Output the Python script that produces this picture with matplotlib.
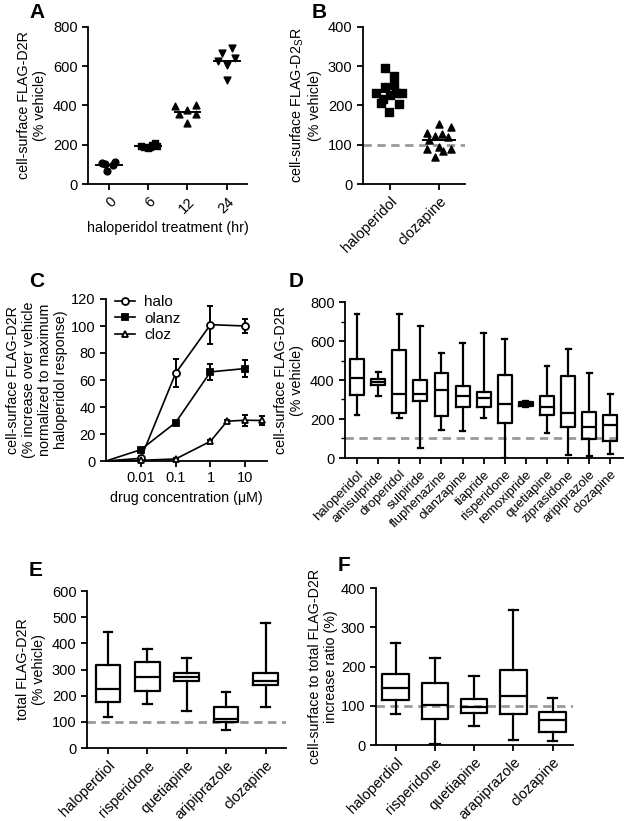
import numpy as np
import matplotlib
matplotlib.use('Agg')
import matplotlib.pyplot as plt
from matplotlib.ticker import LogLocator, NullFormatter, MultipleLocator

plt.rcParams['font.family'] = ['Liberation Sans', 'DejaVu Sans']
plt.rcParams['font.size'] = 10.5
plt.rcParams['axes.linewidth'] = 1.3
plt.rcParams['xtick.major.width'] = 1.3
plt.rcParams['ytick.major.width'] = 1.3
plt.rcParams['xtick.minor.width'] = 1.0
plt.rcParams['ytick.minor.width'] = 1.0
plt.rcParams['xtick.major.size'] = 4
plt.rcParams['ytick.major.size'] = 4

# ---- A: haloperidol time course
a_labels = ['0', '6', '12', '24']
a_vals = [
    [108, 104, 65, 97, 113],
    [193, 188, 185, 190, 197, 207, 195],
    [397, 357, 377, 312, 357, 402],
    [628, 669, 691, 644, 606, 530],
]
a_markers = ['o', 's', '^', 'v']
a_jitter = [
    [-0.17, -0.1, -0.06, 0.09, 0.15],
    [-0.18, -0.1, -0.02, 0.05, 0.1, 0.16, 0.21],
    [-0.31, -0.21, 0, 0, 0.21, 0.22],
    [-0.21, -0.13, 0.13, 0.21, 0, 0],
]

# ---- B: haloperidol vs clozapine
b_labels = ['haloperidol', 'clozapine']
b_vals = [
    [295, 276, 246, 252, 231, 233, 216, 227, 206, 204, 183, 231],
    [153, 131, 144, 122, 127, 112, 119, 88, 93, 85, 88, 68],
]
b_markers = ['s', '^']
b_jitter = [
    [-0.10, 0.09, -0.10, 0.09, -0.29, 0.24, -0.14, 0, -0.19, 0.19, -0.01, 0.12],
    [0, -0.25, 0.24, -0.08, 0.07, -0.20, 0.19, -0.25, 0, 0.09, 0.24, -0.08],
]

# ---- C: concentration response (uM)
c_halo_x = [0.001, 0.01, 0.1, 1, 10]
c_halo_y = [0, 2, 65, 101, 100]
c_halo_e = [0, 2, 10.5, 14, 5.5]
c_olanz_x = [0.001, 0.01, 0.1, 1, 10]
c_olanz_y = [0, 8.4, 28.5, 66, 68.5]
c_olanz_e = [0, 1, 1, 6, 6]
c_cloz_x = [0.001, 0.01, 0.1, 1, 3, 10, 30]
c_cloz_y = [0, 0.5, 1.5, 14.6, 29.5, 30.2, 30]
c_cloz_e = [0, 0.5, 1, 1, 1, 4, 3]

# ---- D: box stats (min, q1, median, q3, max)
d_labels = ['haloperidol', 'amisulpride', 'droperidol', 'sulpiride', 'fluphenazine',
            'olanzapine', 'tiapride', 'risperidone', 'remoxipride', 'quetiapine',
            'ziprasidone', 'aripiprazole', 'clozapine']
d_min = [221, 318, 203, 50, 145, 140, 203, 0, 260, 130, 14, 9, 21]
d_q1 = [323, 374, 232, 294, 217, 263, 260, 181, 268, 219, 161, 99, 89]
d_med = [412, 390, 330, 330, 350, 320, 306, 279, 278, 263, 231, 157, 169]
d_q3 = [508, 405, 554, 398, 436, 369, 340, 424, 288, 320, 421, 238, 221]
d_max = [737, 439, 737, 679, 537, 590, 639, 609, 292, 474, 557, 434, 326]

# ---- E: total FLAG-D2R
e_labels = ['haloperdiol', 'risperidone', 'quetiapine', 'aripiprazole', 'clozapine']
e_min = [118, 169, 143, 69, 155]
e_q1 = [176, 216, 256, 99, 240]
e_med = [227, 273, 273, 112, 256]
e_q3 = [318, 327, 288, 157, 288]
e_max = [444, 379, 343, 213, 478]

# ---- F: surface / total ratio
f_labels = ['haloperdiol', 'risperidone', 'quetiapine', 'arapiprazole', 'clozapine']
f_min = [78, 2, 48, 12, 9]
f_q1 = [114, 66, 82, 78, 34]
f_med = [146, 103, 98, 125, 64]
f_q3 = [180, 157, 118, 190, 83]
f_max = [261, 222, 176, 345, 119]

W, H = 625, 821
fig = plt.figure(figsize=(W / 100, H / 100), dpi=100)
LAB = 10.3


def px_axes(x0, y0, x1, y1):
    ax = fig.add_axes([x0 / W, 1 - y1 / H, (x1 - x0) / W, (y1 - y0) / H])
    ax.spines['top'].set_visible(False)
    ax.spines['right'].set_visible(False)
    return ax


def letter(x, y, s):
    fig.text(x / W, 1 - y / H, s, fontsize=15, fontweight='bold', va='top', ha='left')


def boxes(ax, mins, q1s, meds, q3s, maxs, width, lw=1.6):
    stats = []
    for lo, q1, m, q3, hi in zip(mins, q1s, meds, q3s, maxs):
        stats.append(dict(whislo=lo, q1=q1, med=m, q3=q3, whishi=hi, fliers=[]))
    style = dict(color='black', linewidth=lw)
    ax.bxp(stats, positions=range(len(stats)), widths=width, showfliers=False,
           boxprops=style, medianprops=style, whiskerprops=style, capprops=style,
           capwidths=width * 0.35)


def dashed100(ax):
    ax.axhline(100, color='#999999', lw=2, ls=(0, (3, 2)), zorder=0.5)


def rot_labels(ax, labels, fs=10.5):
    ax.set_xticks(range(len(labels)))
    ax.set_xticklabels(labels, rotation=45, ha='right', rotation_mode='anchor', fontsize=fs)


# A
ax = px_axes(88, 27, 247, 184)
for i, (vals, mk, jit) in enumerate(zip(a_vals, a_markers, a_jitter)):
    ax.scatter(np.array(jit) + i, vals, marker=mk, s=24, color='black', zorder=3, clip_on=False)
    m = np.mean(vals)
    ax.plot([i - 0.33, i + 0.33], [m, m], color='black', lw=1.4, zorder=4)
ax.set_xlim(-0.54, 3.52)
ax.set_ylim(0, 800)
ax.set_yticks([0, 200, 400, 600, 800])
rot_labels(ax, a_labels)
ax.set_ylabel('cell-surface FLAG-D2R\n(% vehicle)', fontsize=LAB)
ax.set_xlabel('haloperidol treatment (hr)', fontsize=LAB)
letter(29, 3, 'A')

# B
ax = px_axes(363, 27, 465, 184)
dashed100(ax)
for i, (vals, mk, jit) in enumerate(zip(b_vals, b_markers, b_jitter)):
    ax.scatter(np.array(jit) + i, vals, marker=mk, s=26, color='black', zorder=3)
    m = np.mean(vals)
    ax.plot([i - 0.32, i + 0.32], [m, m], color='black', lw=1.4, zorder=4)
ax.set_xlim(-0.55, 1.53)
ax.set_ylim(0, 400)
ax.set_yticks([0, 100, 200, 300, 400])
rot_labels(ax, b_labels)
ax.set_ylabel('cell-surface FLAG-D2$\\mathregular{_S}$R\n(% vehicle)', fontsize=LAB)
letter(312, 3, 'B')

# C
ax = px_axes(106, 299, 267, 461)
series = [
    (c_halo_x, c_halo_y, c_halo_e, 'o', 'white', 'halo'),
    (c_olanz_x, c_olanz_y, c_olanz_e, 's', 'black', 'olanz'),
    (c_cloz_x, c_cloz_y, c_cloz_e, '^', 'white', 'cloz'),
]
handles = []
for xs, ys, es, mk, fc, lab in series:
    ax.errorbar(xs[1:], ys[1:], yerr=es[1:], fmt='none', ecolor='black',
                elinewidth=1.4, capsize=2.5, capthick=1.4, zorder=2)
    h, = ax.plot(xs, ys, color='black', lw=1.2, marker=mk, ms=5, mfc=fc, mec='black',
                 mew=1.3, markevery=slice(1, None), zorder=3, label=lab, clip_on=False)
    handles.append(h)
ax.set_xscale('log')
ax.set_xlim(0.001, 42)
ax.set_ylim(0, 120)
ax.set_yticks(range(0, 121, 20))
ax.set_xticks([0.01, 0.1, 1, 10])
ax.set_xticklabels(['0.01', '0.1', '1', '10'])
ax.xaxis.set_minor_locator(LogLocator(base=10, subs=np.arange(2, 10)))
ax.xaxis.set_minor_formatter(NullFormatter())
ax.tick_params(axis='x', which='minor', length=2.5)
ax.legend(handles=handles, loc='upper left', bbox_to_anchor=(0.02, 1.06), frameon=False,
          handlelength=1.3, handletextpad=0.6, labelspacing=0.15, fontsize=11,
          borderaxespad=0)
ax.set_xlabel('drug concentration (\u03bcM)', fontsize=LAB)
ax.set_ylabel('cell-surface FLAG-D2R\n(% increase over vehicle\nnormalized to maximum\n'
              'haloperidol response)', fontsize=LAB, labelpad=2)
letter(29, 272, 'C')

# D
ax = px_axes(345, 302, 623, 458)
dashed100(ax)
boxes(ax, d_min, d_q1, d_med, d_q3, d_max, 0.66, lw=1.6)
ax.set_xlim(-0.57, 12.6)
ax.set_ylim(0, 800)
ax.set_yticks([0, 200, 400, 600, 800])
ax.yaxis.set_minor_locator(MultipleLocator(100))
ax.tick_params(axis='y', which='minor', length=3)
rot_labels(ax, d_labels, fs=9.5)
ax.set_ylabel('cell-surface FLAG-D2R\n(% vehicle)', fontsize=LAB)
letter(289, 272, 'D')

# E
ax = px_axes(87, 591, 286, 748)
dashed100(ax)
boxes(ax, e_min, e_q1, e_med, e_q3, e_max, 0.62)
ax.set_xlim(-0.53, 4.52)
ax.set_ylim(0, 600)
ax.set_yticks(range(0, 601, 100))
rot_labels(ax, e_labels)
ax.set_ylabel('total FLAG-D2R\n(% vehicle)', fontsize=LAB)
letter(29, 561, 'E')

# F
ax = px_axes(376, 588, 573, 745)
dashed100(ax)
boxes(ax, f_min, f_q1, f_med, f_q3, f_max, 0.68)
ax.set_xlim(-0.5, 4.52)
ax.set_ylim(0, 400)
ax.set_yticks(range(0, 401, 100))
rot_labels(ax, f_labels)
ax.set_ylabel('cell-surface to total FLAG-D2R\nincrease ratio (%)', fontsize=LAB, labelpad=2)
letter(338, 556, 'F')

fig.savefig('out.png', dpi=100)
